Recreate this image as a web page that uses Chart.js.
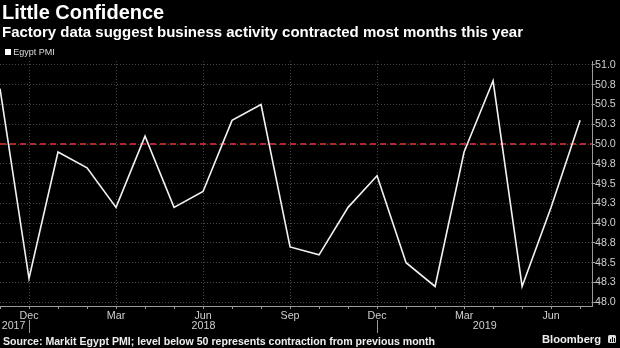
<!DOCTYPE html>
<html><head><meta charset="utf-8">
<script src="https://cdn.jsdelivr.net/npm/chart.js@4"></script>
<style>
html,body{margin:0;padding:0;background:#000;}
#wrap{position:relative;width:620px;height:348px;overflow:hidden;background:#000;font-family:'Liberation Sans',Arial,sans-serif;}
canvas{position:absolute;left:0;top:0;}
.t{position:absolute;white-space:nowrap;}
</style></head><body>
<div id="wrap">
<canvas id="c" width="620" height="348"></canvas>
<div class="t" style="left:2px;top:1.9px;font-size:20px;line-height:20px;font-weight:bold;color:#fff">Little Confidence</div>
<div class="t" style="left:2px;top:23.5px;font-size:15px;line-height:15px;font-weight:bold;color:#fff">Factory data suggest business activity contracted most months this year</div>
<div class="t" style="left:5px;top:49px;width:6px;height:6px;background:#fff"></div>
<div class="t" style="left:13.3px;top:47.9px;font-size:9px;line-height:9px;color:#ddd">Egypt PMI</div>
<div class="t" style="left:3px;top:336px;font-size:10.6px;line-height:10.6px;font-weight:bold;color:#eee">Source: Markit Egypt PMI; level below 50 represents contraction from previous month</div>
<div class="t" style="left:542px;top:334.2px;font-size:11.2px;line-height:11.2px;font-weight:bold;color:#eee">Bloomberg</div>
<div class="t" style="left:608px;top:335px;width:8px;height:8px;background:#ddd;border-radius:1.5px">
  <div style="position:absolute;left:2px;top:4px;width:1px;height:3px;background:#000"></div>
  <div style="position:absolute;left:4px;top:2px;width:1px;height:5px;background:#000"></div>
  <div style="position:absolute;left:6px;top:3px;width:1px;height:4px;background:#000"></div>
</div>
</div>
<script>
// ---- data ----
const months = ['Nov 2017','Dec 2017','Jan 2018','Feb 2018','Mar 2018','Apr 2018','May 2018','Jun 2018','Jul 2018','Aug 2018','Sep 2018','Oct 2018','Nov 2018','Dec 2018','Jan 2019','Feb 2019','Mar 2019','Apr 2019','May 2019','Jun 2019','Jul 2019'];
const pmiValues = [50.7,48.3,49.9,49.7,49.2,50.1,49.2,49.4,50.3,50.5,48.7,48.6,49.2,49.6,48.5,48.2,49.9,50.8,48.2,49.2,50.3];
const monthTickLabels = ['','Dec','','','Mar','','','Jun','','','Sep','','','Dec','','','Mar','','','Jun',''];
const yearLabels = ['2017','2018','2019'];
const yearBreaks = [1,13];
const yTicks = [48,48.25,48.5,48.75,49,49.25,49.5,49.75,50,50.25,50.5,50.75,51];
const yTickLabels = ['48.0','48.3','48.5','48.8','49.0','49.3','49.5','49.8','50.0','50.3','50.5','50.8','51.0'];
const threshold = 50;
const seriesName = 'Egypt PMI';

// ---- axis limits ----
const xMin = 0, xMax = 20.41;
const yMin = 47.953, yMax = 51.05;

const gridColor = 'rgba(255,255,255,0.28)';
const labelColor = '#cfcfcf';
const axisColor = '#9a9a9a';
const tickFont = {family:"'Liberation Sans', Arial, sans-serif", size:10.7};

const yearPlugin = {
  id:'yearAxis',
  afterDraw(chart){
    const xs = chart.scales.x, ctx = chart.ctx;
    ctx.save();
    ctx.strokeStyle = axisColor; ctx.lineWidth = 1;
    const edges = [xs.left];
    yearBreaks.forEach(b => {
      const px = Math.round(xs.getPixelForValue(b)) + 0.5;
      edges.push(px);
      ctx.beginPath(); ctx.moveTo(px, xs.top + 14); ctx.lineTo(px, xs.top + 27); ctx.stroke();
    });
    edges.push(xs.right);
    ctx.fillStyle = labelColor;
    ctx.font = tickFont.size + 'px ' + tickFont.family;
    ctx.textAlign = 'center'; ctx.textBaseline = 'middle';
    yearLabels.forEach((lab, i) => {
      const w = ctx.measureText(lab).width;
      let c = (edges[i] + edges[i+1]) / 2;
      if (c + w/2 > edges[i+1] - 4) c = edges[i+1] - 4 - w/2;
      ctx.fillText(lab, c, xs.top + 20.5);
    });
    ctx.restore();
  }
};

new Chart(document.getElementById('c'), {
  type:'line',
  data:{
    datasets:[
      {label:seriesName, data:pmiValues.map((v,i)=>({x:i,y:v})), borderColor:'#f2f2f2', borderWidth:1.6, pointRadius:0, tension:0, fill:false},
      {label:'threshold', data:[{x:xMin,y:threshold},{x:xMax,y:threshold}], borderColor:'#b3282d', borderWidth:2, borderDash:[6,4], pointRadius:0, fill:false}
    ]
  },
  options:{
    responsive:false, animation:false, devicePixelRatio:1,
    layout:{padding:{top:61,left:0,right:0,bottom:0}},
    plugins:{legend:{display:false}, tooltip:{enabled:false}},
    scales:{
      x:{
        type:'linear', position:'bottom', min:xMin, max:xMax,
        afterBuildTicks:s=>{ s.ticks = months.map((m,i)=>({value:i})); },
        ticks:{autoSkip:false, maxRotation:0, minRotation:0, color:labelColor, font:tickFont, padding:1,
          callback:(v)=>monthTickLabels[v] || ''},
        grid:{color:c=> (c.tick && monthTickLabels[c.tick.value]) ? gridColor : 'rgba(0,0,0,0)', lineWidth:1, tickColor:axisColor, tickLength:3, tickBorderDash:[]},
        border:{display:true, color:axisColor, width:1, dash:[1,2]},
        afterFit:s=>{ s.height = 42; s.paddingLeft = 0; s.paddingRight = 0; }
      },
      y:{
        type:'linear', position:'right', min:yMin, max:yMax,
        afterBuildTicks:s=>{ s.ticks = yTicks.map(v=>({value:v})); },
        ticks:{color:labelColor, font:tickFont, padding:0, callback:(v,i)=>yTickLabels[i]},
        grid:{color:gridColor, lineWidth:1, tickColor:axisColor, tickLength:3, tickBorderDash:[]},
        border:{display:true, color:axisColor, width:1, dash:[1,2]},
        afterFit:s=>{ s.width = 28; s.paddingTop = 0; s.paddingBottom = 0; }
      }
    }
  },
  plugins:[yearPlugin]
});
</script>
</body></html>
